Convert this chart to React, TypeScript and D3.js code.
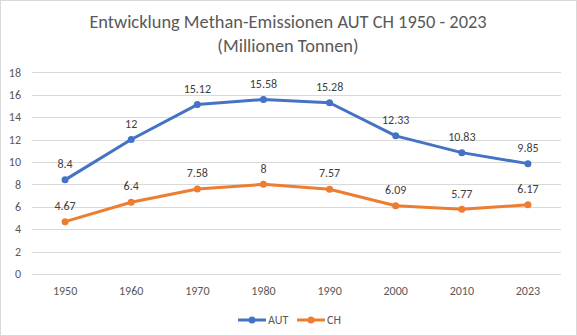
import React from "react";
import * as d3 from "d3";

const years = ["1950", "1960", "1970", "1980", "1990", "2000", "2010", "2023"];
const aut = [8.4, 12, 15.12, 15.58, 15.28, 12.33, 10.83, 9.85];
const ch = [4.67, 6.4, 7.58, 8, 7.57, 6.09, 5.77, 6.17];
const yTicks = [0, 2, 4, 6, 8, 10, 12, 14, 16, 18];
const seriesNames = ["AUT", "CH"];
const colors = ["#4472C4", "#ED7D31"];

const W = 577, H = 336;
const font = "Carlito, Calibri, 'Open Sans', sans-serif";

export default function App() {
  const x = d3.scaleBand().domain(years).range([32, 561]);
  const y = d3.scaleLinear().domain([0, 18]).range([274, 72.3]);
  const line = d3
    .line<number>()
    .x((_, i) => x(years[i])! + x.bandwidth() / 2)
    .y((d) => y(d));
  const series = [aut, ch];
  return (
    <svg width={W} height={H} style={{ position: "absolute", left: 0, top: 0 }} fontFamily={font}>
      <rect x={0.5} y={0.5} width={W - 1} height={H - 1} fill="#fff" stroke="#D9D9D9" />
      <text x={288} y={28} textAnchor="middle" fontSize={18.4} fill="#595959">
        Entwicklung Methan-Emissionen AUT CH 1950 - 2023
      </text>
      <text x={288} y={52} textAnchor="middle" fontSize={18.4} fill="#595959">
        (Millionen Tonnen)
      </text>
      {yTicks.map((t) => (
        <g key={t}>
          <line x1={32} x2={561} y1={Math.round(y(t)) + 0.5} y2={Math.round(y(t)) + 0.5} stroke="#D9D9D9" />
          <text x={21} y={y(t)} dy="0.35em" textAnchor="end" fontSize={12} fill="#595959">
            {t}
          </text>
        </g>
      ))}
      {years.map((yr) => (
        <text key={yr} x={x(yr)! + x.bandwidth() / 2} y={291} dy="0.35em" textAnchor="middle" fontSize={12} fill="#595959">
          {yr}
        </text>
      ))}
      {series.map((s, si) => (
        <g key={si}>
          <path d={line(s)!} fill="none" stroke={colors[si]} strokeWidth={3} strokeLinejoin="round" strokeLinecap="round" />
          {s.map((v, i) => (
            <circle key={i} cx={x(years[i])! + x.bandwidth() / 2} cy={y(v)} r={3.5} fill={colors[si]} />
          ))}
          {s.map((v, i) => (
            <text key={"l" + i} x={x(years[i])! + x.bandwidth() / 2} y={y(v) - 16} dy="0.35em" textAnchor="middle" fontSize={12} fill="#404040">
              {String(v)}
            </text>
          ))}
        </g>
      ))}
      {seriesNames.map((n, i) => {
        const lx = i === 0 ? 238 : 297;
        return (
          <g key={n}>
            <line x1={lx} x2={lx + 28} y1={320} y2={320} stroke={colors[i]} strokeWidth={3} />
            <circle cx={lx + 14} cy={320} r={3.5} fill={colors[i]} />
            <text x={lx + 30} y={320} dy="0.35em" fontSize={12} fill="#595959">
              {n}
            </text>
          </g>
        );
      })}
    </svg>
  );
}
